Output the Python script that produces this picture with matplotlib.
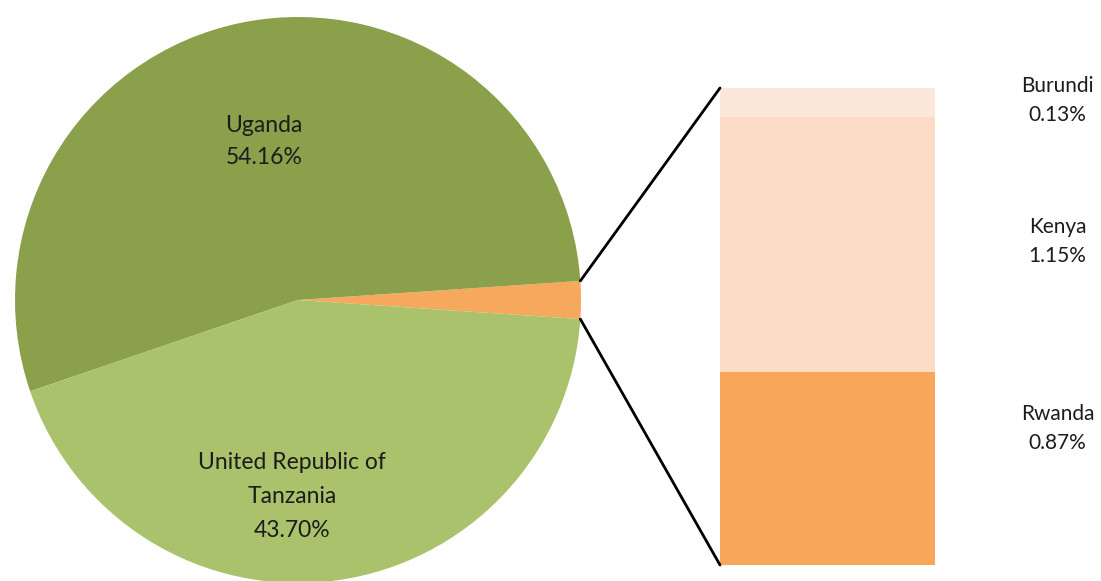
import matplotlib
matplotlib.use('Agg')
import matplotlib.pyplot as plt
import matplotlib.patheffects as pe
from matplotlib.patches import ConnectionPatch
import numpy as np

plt.rcParams['font.family'] = ['Lato', 'DejaVu Sans']

# main pie: the three small countries are grouped into one slice
pie_labels = ['Uganda', 'United Republic of\nTanzania']
pie_values = [54.16, 43.70]
pie_colors = ['#8aa04b', '#a9c26b']

# breakdown shown in the stacked bar (bottom to top)
bar_labels = ['Rwanda', 'Kenya', 'Burundi']
bar_values = [0.87, 1.15, 0.13]
bar_colors = ['#f7a757', '#fcdcc6', '#fbe8da']

other = sum(bar_values)
values = [other] + pie_values
colors = ['#f6a85c'] + pie_colors

W, H = 1101, 581
fig = plt.figure(figsize=(W / 100, H / 100), dpi=100)

# pie axes (centre ~ (298, 300) px, radius ~ 283 px)
cx, cy, r = 298, 300, 283
ax1 = fig.add_axes([(cx - r) / W, (H - cy - r) / H, 2 * r / W, 2 * r / H])
start = -other / 100 * 360 / 2
wedges, _ = ax1.pie(values, colors=colors, startangle=start,
                    counterclock=True, radius=1,
                    wedgeprops=dict(linewidth=0))
ax1.set_xlim(-1, 1)
ax1.set_ylim(-1, 1)
ax1.axis('off')

ax1.text(-0.12, 0.56, f'{pie_labels[0]}\n{pie_values[0]:.2f}%', ha='center',
         va='center', fontsize=16.5, color='#1c1c1c', linespacing=1.6)
ax1.text(-0.02, -0.695, f'{pie_labels[1]}\n{pie_values[1]:.2f}%', ha='center',
         va='center', fontsize=16.5, color='#1c1c1c', linespacing=1.75)

# stacked bar
bx0, bx1, by0, by1 = 720, 935, 88, 565
ax2 = fig.add_axes([bx0 / W, (H - by1) / H, (bx1 - bx0) / W, (by1 - by0) / H])
bottom = 0
shadow = [pe.SimplePatchShadow(offset=(1, -3), alpha=0.35), pe.Normal()]
for val, col in zip(bar_values, bar_colors):
    b = ax2.bar(0, val, width=1, bottom=bottom, align='edge', color=col,
                linewidth=0)
    if bottom == 0:
        b[0].set_path_effects(shadow)
    bottom += val
ax2.set_xlim(0, 1)
ax2.set_ylim(0, other)
ax2.axis('off')

# labels to the right of the bar (axes fraction heights)
label_y = [0.287, 0.679, 0.974]
for lab, val, yy in zip(bar_labels, bar_values, label_y):
    ax2.text(1.57, yy, f'{lab}\n{val:.2f}%', transform=ax2.transAxes,
             ha='center', va='center', fontsize=15, color='#1c1c1c',
             linespacing=1.55)

# connector lines from the grouped slice to the bar
theta1 = np.deg2rad(start)
theta2 = np.deg2rad(start + other / 100 * 360)
for th, yb in [(theta2, other), (theta1, 0)]:
    con = ConnectionPatch(xyA=(np.cos(th), np.sin(th)), coordsA=ax1.transData,
                          xyB=(0, yb), coordsB=ax2.transData,
                          color='black', linewidth=2)
    fig.add_artist(con)

fig.savefig('out.png', dpi=100)
